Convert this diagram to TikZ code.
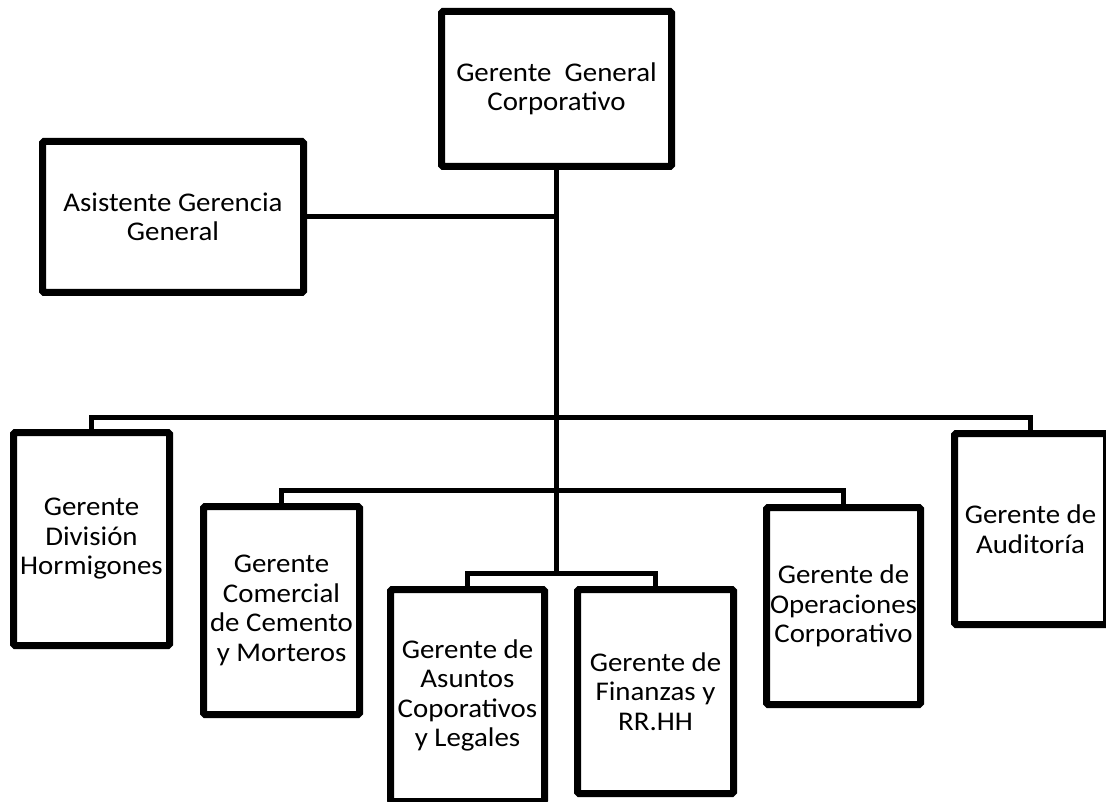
\documentclass[tikz,border=0pt]{standalone}
\usepackage{fontspec}
\newfontfamily\orgfont[FakeStretch=1.07]{Carlito}
\usetikzlibrary{shadows}
\begin{document}
\begin{tikzpicture}[x=1pt,y=-1pt,
  orgbox/.style={draw=black, line width=7pt, fill=white, rounded corners=1.5pt,
    inner sep=0pt, align=center,
    font=\orgfont\fontsize{27}{29.5}\selectfont,
    drop shadow={opacity=0.18, shadow xshift=0pt, shadow yshift=-3pt}},
  link/.style={draw=black, line width=5pt}]
\useasboundingbox (0,0) rectangle (1106,802);

% boxes
\node[orgbox, minimum width=230pt, minimum height=155pt] (gg)   at (556.5,89)   {Gerente\ \ General\\Corporativo};
\node[orgbox, minimum width=261pt, minimum height=151pt] (asis) at (173,217)    {Asistente Gerencia\\General};
\node[orgbox, minimum width=156pt, minimum height=213pt] (horm) at (91.5,539)   {Gerente\\División\\Hormigones};
\node[orgbox, minimum width=156pt, minimum height=208pt] (com)  at (281.5,610.5){Gerente\\Comercial\\de Cemento\\y Morteros};
\node[orgbox, minimum width=154pt, minimum height=212pt] (asu)  at (467.5,695.5){Gerente de\\Asuntos\\Coporativos\\y Legales};
\node[orgbox, minimum width=156pt, minimum height=204pt] (fin)  at (655.5,691.5){Gerente de\\Finanzas y\\RR.HH};
\node[orgbox, minimum width=154pt, minimum height=197pt] (ope)  at (843.5,606)  {Gerente de\\Operaciones\\Corporativo};
\node[orgbox, minimum width=152pt, minimum height=191pt] (aud)  at (1030.5,529) {Gerente de\\Auditoría};

% junctions on the main stem
\coordinate (j0) at (gg.south |- asis.east);
\coordinate (j1) at (556.5,417);
\coordinate (j2) at (556.5,490);
\coordinate (j3) at (556.5,573);

% connectors
\draw[link] (gg.south) -- (j3);
\draw[link] (asis.east) -- (j0);
\draw[link] (horm.north) |- (j1) -| (aud.north);
\draw[link] (com.north) |- (j2) -| (ope.north);
\draw[link] (asu.north) |- (j3) -| (fin.north);
\end{tikzpicture}
\end{document}
